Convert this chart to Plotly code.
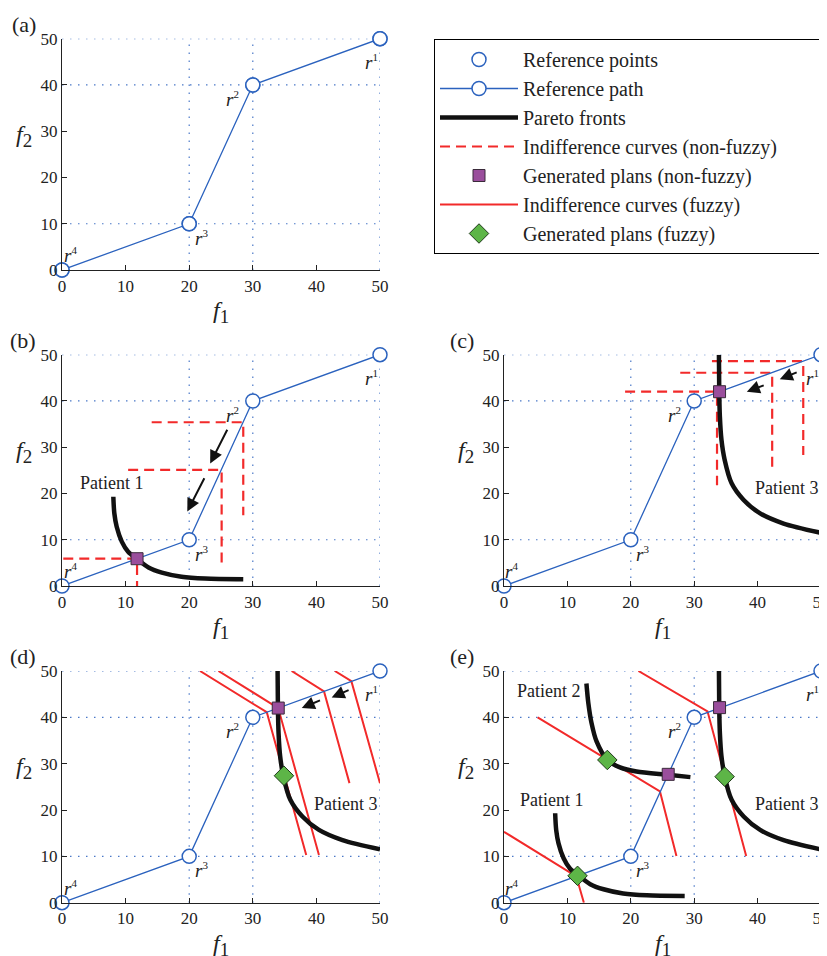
import plotly.graph_objects as go

# ---------------- data ----------------
ref_f1 = [50, 30, 20, 0]
ref_f2 = [50, 40, 10, 0]
ref_names = ["1", "2", "3", "4"]
ref_label_shift = [(-9, -23), (-20, -14), (12, -14), (8, 15)]   # pixel offsets of r^k labels

# Pareto fronts
p1_f1 = [8.07, 8.23, 8.6, 9.4, 10.4, 11.8, 13.6, 15.7, 18.8, 22.5, 28.5]
p1_f2 = [19.3, 15.7, 12.8, 9.6, 7.4, 5.8, 4.0, 2.9, 2.0, 1.6, 1.45]
p2_f1 = [13.0, 13.3, 13.8, 14.6, 16.3, 18.3, 20.9, 25.9, 29.4]
p2_f2 = [47.3, 43.1, 38.8, 34.8, 30.8, 29.2, 28.3, 27.6, 27.1]
p3_f1 = [33.9, 33.95, 34.05, 34.3, 34.8, 35.9, 37.8, 40.4, 44.1, 50.0]
p3_f2 = [50.0, 42.0, 36.6, 31.6, 27.3, 22.2, 18.6, 15.7, 13.5, 11.5]

# Non-fuzzy indifference curves (L shapes)
nf_b_f1 = [14.1, 28.5, 28.5, None, 10.4, 25.1, 25.1, None, 0.2, 11.8, 11.8]
nf_b_f2 = [35.4, 35.4, 15.3, None, 25.1, 25.1, 4.9, None, 5.9, 5.9, 0.0]
nf_c_f1 = [32.8, 47.2, 47.2, None, 27.8, 42.3, 42.3, None, 19.1, 33.6, 33.6]
nf_c_f2 = [48.6, 48.6, 28.3, None, 46.1, 46.1, 25.8, None, 42.0, 42.0, 21.8]

# Fuzzy indifference curves
fz_d_f1 = [42.9, 45.5, 50.0, None, 36.1, 41.2, 45.2, None, 24.6, 34.0, 40.4, None, 21.7, 32.2, 38.4]
fz_d_f2 = [50.0, 47.8, 25.8, None, 50.0, 45.6, 25.8, None, 50.0, 42.0, 10.3, None, 50.0, 41.1, 10.3]
fz_e_f1 = [0.0, 11.4, 12.6, None, 5.3, 24.6, 27.2, None, 21.2, 32.1, 38.2]
fz_e_f2 = [15.3, 5.7, 0.0, None, 40.0, 24.0, 10.1, None, 50.0, 41.3, 10.1]

# Generated plans
sq_b_f1, sq_b_f2 = [11.8], [5.9]
sq_c_f1, sq_c_f2 = [34.0], [42.0]
sq_d_f1, sq_d_f2 = [34.0], [42.0]
sq_e_f1, sq_e_f2 = [25.9, 34.0], [27.7, 42.1]
dm_d_f1, dm_d_f2 = [34.9], [27.4]
dm_e_f1, dm_e_f2 = [11.6, 16.3, 34.8], [5.8, 30.8, 27.2]

# Arrows (tail -> head)
arrows_b = [((26.1, 34.1), (23.3, 26.5)), ((22.5, 23.6), (19.7, 16.1))]
arrows_c = [((46.4, 46.3), (43.5, 44.7)), ((41.2, 43.5), (38.3, 42.0))]
arrows_d = [((45.3, 46.0), (42.4, 44.3)), ((40.8, 43.8), (37.7, 42.0))]

# Patient labels
patients_b = [("Patient 1", 7.8, 22.2)]
patients_c = [("Patient 3", 44.6, 21.1)]
patients_d = [("Patient 3", 44.7, 21.3)]
patients_e = [("Patient 2", 7.1, 45.6), ("Patient 1", 7.5, 22.2), ("Patient 3", 44.6, 21.3)]

tick_vals = [0, 10, 20, 30, 40, 50]
panel_names = ["(a)", "(b)", "(c)", "(d)", "(e)"]
legend_names = ["Reference points", "Reference path", "Pareto fronts",
                "Indifference curves (non-fuzzy)", "Generated plans (non-fuzzy)",
                "Indifference curves (fuzzy)", "Generated plans (fuzzy)"]

# ---------------- style ----------------
OFF = 8                      # page body margin
W, H = 827 - OFF, 956 - OFF  # figure size so the page is exactly 827x956
SERIF = "Liberation Serif, DejaVu Serif, serif"
BLUE = "#2B62BE"
RED = "#F22A2A"
BLACK = "#111111"
PURPLE = "#9A4E9C"
GREEN = "#5DB547"
AXC = "#222222"
PAD = "\u00a0" * 8           # widens the legend box to the reference width

# page-pixel boxes of panels: (x0, x1, ytop, ybottom)
boxes = [(62, 380, 38.7, 270), (62, 380, 354.7, 586), (504, 821, 354.7, 586),
         (62, 380, 671, 902.7), (504, 821, 671, 902.7)]


def fx(px):
    return (px - OFF) / W


def fy(py):
    return 1 - (py - OFF) / H


fig = go.Figure()
layout = dict(width=W, height=H, autosize=False, margin=dict(l=0, r=0, t=0, b=0, autoexpand=False),
              plot_bgcolor="white", paper_bgcolor="white", showlegend=True)
annotations = []
shapes = []

for i, (x0, x1, yt, yb) in enumerate(boxes):
    k = "" if i == 0 else str(i + 1)
    common = dict(range=[0, 50], tickmode="array", tickvals=tick_vals, ticks="inside", ticklen=5,
                  tickwidth=1, tickcolor=AXC, showline=True, linecolor=AXC, linewidth=1.3,
                  showgrid=False, zeroline=False, fixedrange=True, automargin=False,
                  ticklabeloverflow="allow",
                  tickfont=dict(family=SERIF, size=17, color=AXC))
    layout["xaxis" + k] = dict(domain=[fx(x0), fx(x1)], anchor="y" + k, **common)
    layout["yaxis" + k] = dict(domain=[fy(yb), fy(yt)], anchor="x" + k, **common)
    xr, yr = "x" + k, "y" + k
    pw, ph = x1 - x0, yb - yt
    # dotted grid at reference-point coordinates
    for v in ref_f1:
        if v > 0:
            shapes.append(dict(type="line", xref=xr, yref=yr + " domain", x0=v, x1=v, y0=0, y1=1,
                               layer="below", line=dict(color="#4A78C8", width=1.2, dash="1.5px,6.5px")))
    for v in ref_f2:
        if v > 0:
            shapes.append(dict(type="line", xref=xr + " domain", yref=yr, x0=0, x1=1, y0=v, y1=v,
                               layer="below", line=dict(color="#4A78C8", width=1.2, dash="1.5px,6.5px")))
    # axis titles
    annotations.append(dict(text="<i>f</i><sub><span style='font-size:19px'>1</span></sub>",
                            xref=xr + " domain", yref=yr + " domain",
                            x=0.5, y=-42 / ph, showarrow=False, xanchor="center", yanchor="middle",
                            font=dict(family=SERIF, size=24, color=AXC)))
    annotations.append(dict(text="<i>f</i><sub><span style='font-size:19px'>2</span></sub>",
                            xref=xr + " domain", yref=yr + " domain",
                            x=-38 / pw, y=1 - 97 / ph, showarrow=False, xanchor="center", yanchor="middle",
                            font=dict(family=SERIF, size=24, color=AXC)))
    # panel label
    off = 24 if x0 < 100 else 28
    annotations.append(dict(text=panel_names[i], xref=xr + " domain", yref=yr + " domain",
                            x=-off / pw, y=1 + 14.5 / ph, showarrow=False, xanchor="right", yanchor="middle",
                            font=dict(family=SERIF, size=22, color=AXC)))
    # reference labels
    for nm, rx, ry, (dx, dy) in zip(ref_names, ref_f1, ref_f2, ref_label_shift):
        annotations.append(dict(text="<i>r</i><sup><span style='font-size:11px'>" + nm + "</span></sup>",
                                xref=xr, yref=yr, x=rx, y=ry,
                                xshift=dx, yshift=dy, showarrow=False, xanchor="center", yanchor="middle",
                                font=dict(family=SERIF, size=19, color=AXC)))


def add(trace_kw, i, li, show):
    k = "" if i == 0 else str(i + 1)
    name = legend_names[li] + (PAD if li == 3 else "")
    fig.add_trace(go.Scatter(xaxis="x" + k, yaxis="y" + k, name=name, legendgroup=str(li),
                             legendrank=li + 1, showlegend=show, cliponaxis=False, hoverinfo="skip",
                             **trace_kw))


def nonfuzzy(i, xs, ys, show):
    add(dict(x=xs, y=ys, mode="lines", line=dict(color=RED, width=2.2, dash="10px,6px")), i, 3, show)


def fuzzy(i, xs, ys, show):
    add(dict(x=xs, y=ys, mode="lines", line=dict(color=RED, width=2)), i, 5, show)


def refpath(i, show):
    add(dict(x=ref_f1, y=ref_f2, mode="lines+markers", line=dict(color=BLUE, width=1.3),
             marker=dict(symbol="circle", size=14, color="white", line=dict(color=BLUE, width=1.5))),
        i, 1, show)


def pareto(i, xs, ys, show):
    add(dict(x=xs, y=ys, mode="lines", line=dict(color=BLACK, width=4.5, shape="spline", smoothing=0.8)),
        i, 2, show)


def squares(i, xs, ys, show):
    add(dict(x=xs, y=ys, mode="markers",
             marker=dict(symbol="square", size=12, color=PURPLE, line=dict(color="#3a2a3a", width=1))),
        i, 4, show)


def diamonds(i, xs, ys, show):
    add(dict(x=xs, y=ys, mode="markers",
             marker=dict(symbol="diamond", size=15, color=GREEN, line=dict(color="#1f3a1a", width=1))),
        i, 6, show)


# (a)
refpath(0, True)
add(dict(x=ref_f1, y=ref_f2, mode="markers",
         marker=dict(symbol="circle", size=14, color="white", line=dict(color=BLUE, width=1.5))),
    0, 0, True)
# (b)
nonfuzzy(1, nf_b_f1, nf_b_f2, True)
refpath(1, False)
pareto(1, p1_f1, p1_f2, True)
squares(1, sq_b_f1, sq_b_f2, True)
# (c)
nonfuzzy(2, nf_c_f1, nf_c_f2, False)
refpath(2, False)
pareto(2, p3_f1, p3_f2, False)
squares(2, sq_c_f1, sq_c_f2, False)
# (d)
fuzzy(3, fz_d_f1, fz_d_f2, True)
refpath(3, False)
pareto(3, p3_f1, p3_f2, False)
squares(3, sq_d_f1, sq_d_f2, False)
diamonds(3, dm_d_f1, dm_d_f2, True)
# (e)
fuzzy(4, fz_e_f1, fz_e_f2, False)
refpath(4, False)
pareto(4, p1_f1, p1_f2, False)
pareto(4, p2_f1, p2_f2, False)
pareto(4, p3_f1, p3_f2, False)
squares(4, sq_e_f1, sq_e_f2, False)
diamonds(4, dm_e_f1, dm_e_f2, False)

# arrows
for i, arr in [(1, arrows_b), (2, arrows_c), (3, arrows_d)]:
    k = str(i + 1)
    for (tx, ty), (hx, hy) in arr:
        annotations.append(dict(x=hx, y=hy, ax=tx, ay=ty, xref="x" + k, yref="y" + k,
                                axref="x" + k, ayref="y" + k, text="", showarrow=True,
                                arrowhead=2, arrowsize=1.3, arrowwidth=2, arrowcolor=BLACK))

# patient labels
for i, plist in [(1, patients_b), (2, patients_c), (3, patients_d), (4, patients_e)]:
    k = str(i + 1)
    for txt, px, py in plist:
        annotations.append(dict(text=txt, x=px, y=py, xref="x" + k, yref="y" + k, showarrow=False,
                                xanchor="center", yanchor="middle",
                                font=dict(family=SERIF, size=18, color=AXC)))

layout["annotations"] = annotations
layout["shapes"] = shapes
layout["legend"] = dict(x=fx(434), y=fy(39), xanchor="left", yanchor="top",
                        bordercolor="black", borderwidth=1, bgcolor="white",
                        font=dict(family=SERIF, size=20, color=AXC),
                        itemwidth=78, tracegroupgap=0, traceorder="normal")
fig.update_layout(**layout)
fig.write_html("out.html")
